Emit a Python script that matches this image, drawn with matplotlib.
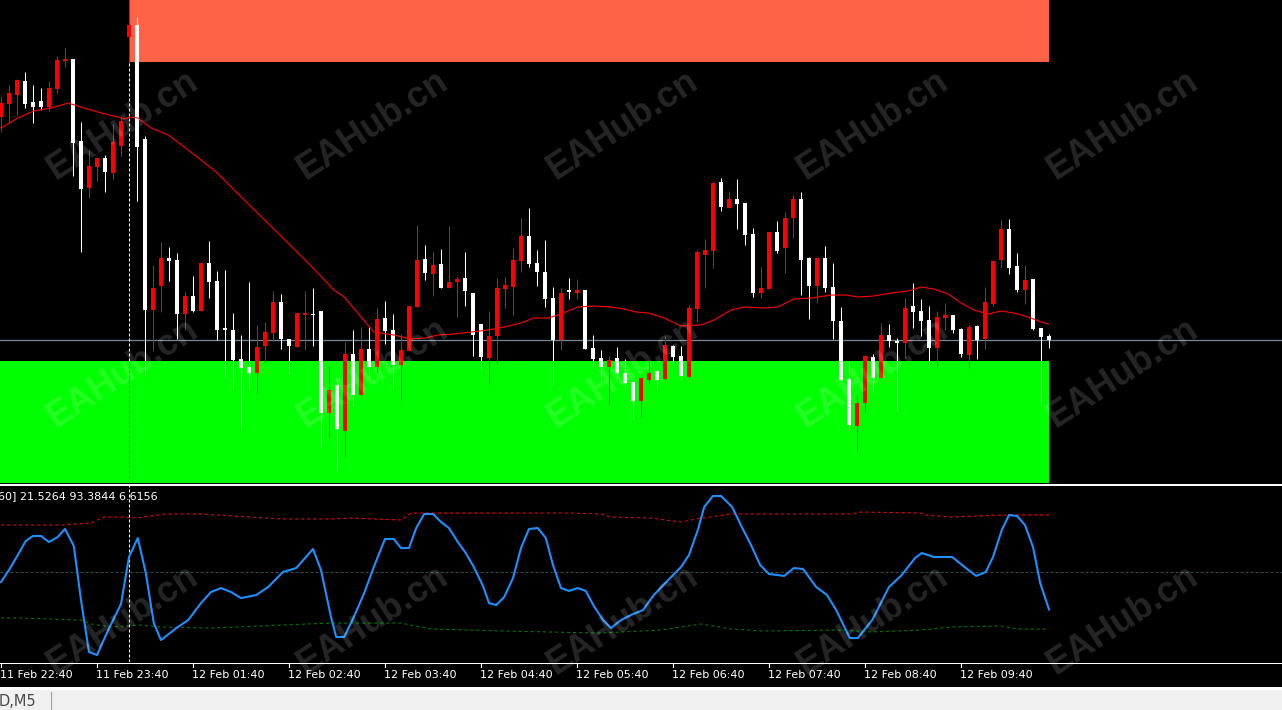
import matplotlib
matplotlib.use("Agg")
import matplotlib.pyplot as plt
import matplotlib.transforms as mtransforms
from matplotlib.patches import Rectangle
from matplotlib.lines import Line2D
import numpy as np

W, H = 1282, 710

# --- M5 candles (price units) ---
opens = [383, 396, 405, 419, 398, 399, 393, 411, 439, 441,
         359, 312, 333, 342, 327, 354, 463, 475, 361, 190,
         214, 242, 240, 186, 204, 189, 237, 219, 172, 170,
         141, 133, 127, 154, 167, 198, 161, 153, 185, 186,
         189, 87, 115, 69, 146, 105, 151, 133, 182, 170,
         135, 149, 193, 241, 226, 236, 212, 218, 222, 207,
         176, 142, 164, 211, 213, 239, 264, 237, 228, 202,
         160, 210, 207, 210, 152, 142, 133, 142, 127, 118,
         99, 120, 129, 121, 154, 144, 123, 191, 245, 249,
         318, 292, 301, 297, 266, 207, 211, 268, 252, 282,
         301, 242, 214, 242, 213, 179, 121, 74, 97, 143,
         122, 165, 159, 157, 194, 189, 180, 152, 182, 185,
         171, 145, 174, 161, 196, 240, 271, 234, 210, 221,
         172, 164]
highs = [404, 415, 421, 428, 415, 412, 419, 444, 452, 441,
         378, 350, 342, 345, 376, 383, 476, 483, 364, 235,
         258, 253, 247, 208, 224, 237, 259, 229, 230, 187,
         165, 218, 175, 178, 209, 206, 161, 187, 209, 212,
         189, 134, 122, 158, 170, 173, 173, 192, 199, 186,
         166, 194, 275, 255, 248, 251, 274, 223, 248, 207,
         176, 189, 222, 223, 252, 282, 292, 250, 260, 213,
         212, 222, 221, 210, 165, 150, 144, 153, 141, 118,
         122, 140, 129, 164, 155, 154, 195, 250, 261, 318,
         322, 309, 321, 297, 272, 233, 268, 279, 288, 305,
         308, 243, 242, 254, 237, 193, 139, 105, 145, 146,
         177, 176, 162, 202, 217, 201, 194, 189, 197, 185,
         172, 175, 175, 213, 239, 280, 281, 247, 235, 221,
         172, 166]
lows = [368, 378, 385, 392, 377, 390, 389, 407, 433, 324,
        248, 302, 319, 308, 321, 344, 463, 299, 124, 149,
        188, 219, 161, 170, 188, 189, 202, 160, 123, 111,
        71, 111, 107, 137, 159, 151, 126, 153, 150, 154,
        53, 62, 29, 43, 94, 105, 122, 128, 156, 111,
        100, 149, 193, 220, 204, 212, 212, 183, 194, 144,
        130, 116, 136, 192, 185, 228, 233, 214, 193, 115,
        150, 201, 201, 151, 132, 117, 96, 122, 111, 81,
        83, 116, 111, 121, 136, 120, 121, 178, 212, 232,
        289, 292, 271, 255, 203, 202, 211, 247, 227, 262,
        205, 181, 197, 208, 161, 120, 69, 48, 88, 108,
        122, 153, 89, 142, 172, 164, 133, 133, 170, 167,
        143, 132, 141, 151, 194, 233, 226, 208, 196, 170,
        94, 152]
closes = [397, 407, 420, 396, 393, 393, 412, 440, 441, 357,
          311, 334, 342, 328, 358, 379, 475, 353, 190, 212,
          242, 239, 186, 204, 189, 237, 218, 170, 170, 140,
          132, 127, 153, 168, 198, 161, 154, 187, 187, 185,
          87, 110, 71, 146, 105, 151, 133, 181, 169, 135,
          150, 194, 240, 227, 235, 212, 218, 221, 209, 165,
          143, 164, 212, 215, 240, 264, 236, 228, 201, 160,
          207, 208, 210, 151, 141, 133, 140, 127, 117, 99,
          122, 127, 120, 155, 143, 124, 192, 248, 250, 317,
          293, 301, 296, 265, 207, 212, 268, 249, 282, 301,
          240, 214, 242, 212, 179, 120, 75, 97, 144, 122,
          165, 159, 157, 192, 188, 179, 152, 183, 185, 170,
          146, 173, 160, 198, 239, 271, 232, 210, 220, 171,
          163, 160]

# moving average (bar position, price)
ma_pos = [0, 2.1, 4.1, 6.25, 8.4, 8.75, 10.4, 12.5, 14.6, 15.4, 16.25, 17.1, 18.75,
          20.9, 22.9, 25, 26.9, 30.4, 34.6, 38.4, 41.6, 42.9, 45, 46.6, 49.1, 51.25,
          53.1, 54.6, 56.6, 58.75, 60.9, 62.9, 65, 66.6, 68.4, 70, 72.1, 74.1, 76.25,
          77.9, 79.4, 80.9, 82.9, 85, 87.5, 89.1, 91.25, 92.9, 95.4, 97.1, 99.1, 101.25,
          103.75, 105.6, 107.1, 109.1, 111.25, 113.4, 115, 116.6, 118.4, 120, 121.6,
          123.4, 125, 126.6, 128.4, 130, 130.9]
ma_val = [372, 382, 389, 392, 397, 396, 392, 387, 383, 381, 383, 382, 372,
          365, 353, 340, 328, 300, 267, 237, 210, 203, 183, 168, 165, 161,
          162, 165, 166, 168, 170, 173, 177, 182, 182, 186, 193, 194, 193,
          191, 188, 187, 182, 174, 175, 180, 190, 193, 192, 193, 201, 202,
          205, 205, 203, 204, 207, 209, 213, 211, 206, 197, 190,
          186, 189, 187, 183, 178, 176]

# zones and levels (price units)
supply_zone = (16, 131, 438, 520)   # start bar, end bar, low, high
demand_zone = (-2, 131, 0, 139)
level_price = 160
day_separator = 16

# oscillator
osc_pos = [0, 1, 2.1, 3.1, 4, 5, 6, 7.1, 8, 9.1, 10, 11, 12, 13.4, 15, 16, 17.1, 18.1,
           19.1, 20, 22.1, 23.4, 25, 26.25, 27.5, 28.75, 30, 31.9, 33.4, 35.25, 36.9,
           39, 40, 41.25, 41.9, 42.9, 44.1, 45.4, 46.6, 48, 49.1, 50, 51, 51.9, 52.9,
           54, 55, 56, 57.1, 58.1, 59.1, 60.25, 61, 61.9, 62.9, 64, 65, 66, 67.1, 68.1,
           69, 70, 71, 72.1, 73.1, 74.1, 75.25, 76.25, 77.5, 78.75, 80.25, 81.6, 83.4,
           85, 86, 87.1, 87.9, 89, 90, 91.4, 92.6, 93.75, 94.9, 96, 97.9, 99.1, 100.25,
           101.9, 103.25, 104.4, 106.1, 107.1, 108.9, 111, 112.6, 114.25, 115.1, 116.6,
           118.9, 120.75, 121.9, 123.1, 124, 125.1, 126, 127, 128, 129, 129.9, 131]
osc_val = [42.4, 51.5, 62.9, 73.6, 77.4, 77.4, 72.8, 76.6, 82.7, 69.8, 28.7, -10.8,
           -13.1, 5.9, 25.7, 61.4, 75.8, 49.2, 11.2, -1.7, 8.2, 13.5, 26.4, 34.8, 37.8,
           34.8, 30.2, 32.5, 38.6, 50, 53, 67.5, 51.5, 15.8, 0.6, 0.6, 15.8, 34, 53.8,
           75.1, 75.1, 68.2, 68.2, 83.4, 94.1, 94.1, 88, 83.4, 72.8, 64.4, 53.8, 39.4,
           26.4, 24.9, 31, 45.4, 68.2, 82.7, 83.4, 75.8, 55.3, 37.8, 35.6, 37.8, 35.6,
           24.2, 13.5, 7.4, 13.5, 17.3, 21.1, 32.5, 43.9, 53.8, 62.9, 81.9, 99.4, 107.8,
           107.8, 99.4, 84.2, 70.5, 55.3, 48.5, 47, 53, 52.3, 38.6, 32.5, 21.1, -0.2,
           -0.2, 13.5, 38.6, 47.7, 60.6, 64.4, 61.4, 61.4, 52.3, 47, 50, 61.4, 81.9,
           93.3, 92.6, 85.7, 69, 41.6, 21.5]
upper_pos = [0, 7.5, 11.25, 12.9, 15, 16.9, 20.6, 25, 35, 41.25, 43.75, 50, 51.25,
             62.5, 71.25, 75, 76.25, 81.25, 85, 86.9, 91.25, 106.25, 107.5, 115,
             115.6, 118.75, 125, 131]
upper_val = [85.7, 85.7, 87.2, 91.8, 91.8, 91, 94.1, 94.1, 90.3, 90.3, 91, 89.5, 94.8,
             94.8, 94.8, 94.1, 91.8, 91, 88, 90.3, 94.1, 94.1, 95.6, 94.8,
             93.3, 91.8, 93.3, 93.4]
lower_pos = [0, 2.5, 10, 11.25, 13.75, 17.5, 20, 26.25, 35, 41.25, 50, 53.75, 62.5,
             75, 82.5, 87.5, 91.25, 95, 105, 108.75, 115, 118.75, 125, 126.9, 131]
lower_val = [15, 15, 13.5, 10.5, 8.2, 9.7, 8.2, 7.4, 9.7, 11.2, 11.2, 6.7, 5.2,
             3.6, 5.9, 10.5, 6.7, 5.2, 5.9, 4.4, 5.9, 8.2, 9, 6.7, 6.6]
osc_mid = 50

tick_labels = ["11 Feb 22:40", "11 Feb 23:40", "12 Feb 01:40", "12 Feb 02:40",
               "12 Feb 03:40", "12 Feb 04:40", "12 Feb 05:40", "12 Feb 06:40",
               "12 Feb 07:40", "12 Feb 08:40", "12 Feb 09:40"]
tick_bars = np.arange(len(tick_labels)) * 12

osc_title = "60] 21.5264 93.3844 6.6156"
symbol_text = "D,M5"


def fy(y):
    return 1 - y / H


fig = plt.figure(figsize=(W / 100, H / 100), dpi=100, facecolor="black")
xlim = (-0.125, 160.125)

# --- main price panel ---
ax = fig.add_axes([0, fy(483), 1, 483 / H])
ax.set_facecolor("black")
ax.set_xlim(*xlim)
ax.set_ylim(17, 500)
ax.axis("off")

x0, x1, lo, hi = supply_zone
ax.add_patch(Rectangle((x0, lo), x1 - x0, hi - lo, color="#ff6347", lw=0, zorder=1))
x0, x1, lo, hi = demand_zone
ax.add_patch(Rectangle((x0, lo), x1 - x0, hi - lo, color="#00ff00", lw=0, zorder=1))

ax.axhline(level_price, color="#778899", lw=0.9, zorder=2)

dash = dict(lw=0.75, dashes=(2.9, 1.9))
ax.plot([day_separator] * 2, [demand_zone[3], supply_zone[2]], color="white", zorder=2, **dash)
ax.plot([day_separator] * 2, [17, demand_zone[3]], color="#ff00ff", zorder=2, **dash)
ax.plot([day_separator] * 2, [supply_zone[2], 500], color="#ff0000", lw=0.8, zorder=2)

o, h, l, c = (np.array(a, dtype=float) for a in (opens, highs, lows, closes))
xs = np.arange(len(o))
cols = np.where(c >= o, "#ff0000", "#ffffff")
ax.vlines(xs, l, h, colors=cols, lw=0.75, zorder=4)
ax.bar(xs, np.maximum(np.abs(c - o), 1.3), bottom=np.minimum(o, c), width=0.62,
       color=cols, linewidth=0, zorder=5)

ax.plot(ma_pos, ma_val, color="#ff0000", lw=0.8, zorder=6)

# --- oscillator panel ---
ax2 = fig.add_axes([0, fy(662), 1, (662 - 486) / H])
ax2.set_facecolor("black")
ax2.set_xlim(*xlim)
ax2.set_ylim(osc_mid - 90 * 0.76, osc_mid + 86 * 0.76)
ax2.axis("off")
ax2.axhline(osc_mid, color="#2f4f4f", lw=0.75, dashes=(2.9, 1.9))
ax2.plot(upper_pos, upper_val, color="#ff0000", lw=0.75, dashes=(2.9, 2.9))
ax2.plot(lower_pos, lower_val, color="#008000", lw=0.75, dashes=(2.9, 2.9))
ax2.plot([day_separator] * 2, [-30, 130], color="white", **dash)
ax2.plot(osc_pos, osc_val, color="#1e90ff", lw=1.5, zorder=5)

# --- frame lines, time axis, status bar ---
def band(y0, y1, color):
    fig.add_artist(Rectangle((0, fy(y1)), 1, (y1 - y0) / H, transform=fig.transFigure,
                             color=color, lw=0, zorder=3))

band(484, 486, "white")
band(662.5, 664, "white")
band(687, 689.5, "white")
band(689.5, 710, "#f0f0f0")

tr = mtransforms.blended_transform_factory(ax2.transData, fig.transFigure)
for b, lab in zip(tick_bars, tick_labels):
    fig.add_artist(Line2D([b, b], [fy(664), fy(667)], transform=tr, color="white", lw=0.8))
    fig.text(b - 0.1, fy(674.5), lab, transform=tr, ha="left", va="center",
             fontsize=8, color="white", family="DejaVu Sans")

fig.text(-2 / W, fy(496.5), osc_title, ha="left", va="center", fontsize=8,
         color="white", family="DejaVu Sans")
fig.text(-1 / W, fy(701), symbol_text, ha="left", va="center", fontsize=10.5,
         color="#4a4a4a", family="DejaVu Sans", zorder=10)
fig.add_artist(Line2D([50.5 / W, 50.5 / W], [fy(692), fy(710)], transform=fig.transFigure,
                      color="#a0a0a0", lw=0.8, zorder=10))

# watermark
for cy in (125, 373, 620):
    for cx in (123, 373, 623, 873, 1123):
        fig.text(cx / W, fy(cy), "EAHub.cn", rotation=33, rotation_mode="anchor",
                 ha="center", va="center", fontsize=26, weight="bold",
                 family="Liberation Sans", color="white", alpha=0.15, zorder=50)

fig.savefig("out.png", dpi=100, facecolor=fig.get_facecolor())
